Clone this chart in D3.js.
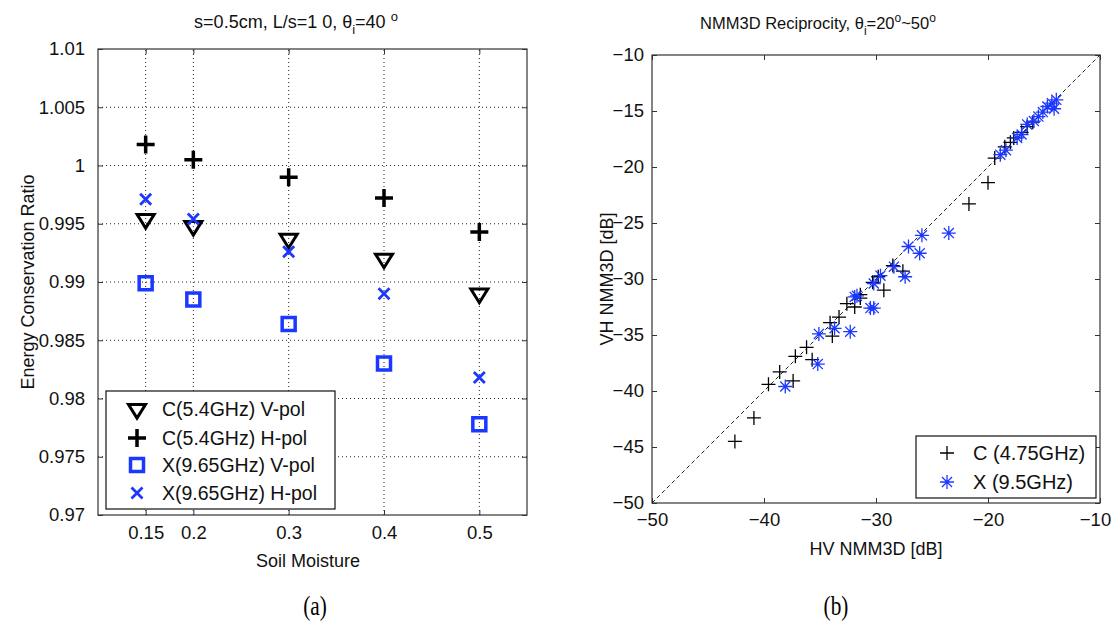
<!DOCTYPE html>
<html><head><meta charset="utf-8">
<script src="https://cdn.jsdelivr.net/npm/d3@7"></script>
<style>
body{margin:0;background:#fff;}
</style></head>
<body>
<script>
// ---------- Data: panel (a) ----------
const moisture = [0.15, 0.2, 0.3, 0.4, 0.5];
const cVpol = [0.9954, 0.9948, 0.9937, 0.9920, 0.9890];
const cHpol = [1.0018, 1.0005, 0.9990, 0.9972, 0.9943];
const xVpol = [0.9899, 0.9885, 0.9864, 0.9830, 0.9778];
const xHpol = [0.9971, 0.9954, 0.9926, 0.9890, 0.9818];
const xTicksA = [0.15, 0.2, 0.3, 0.4, 0.5];
const xTickLabelsA = ["0.15", "0.2", "0.3", "0.4", "0.5"];
const yTicksA = [0.97, 0.975, 0.98, 0.985, 0.99, 0.995, 1.0, 1.005, 1.01];
const yTickLabelsA = ["0.97", "0.975", "0.98", "0.985", "0.99", "0.995", "1", "1.005", "1.01"];
const legendA = ["C(5.4GHz) V-pol", "C(5.4GHz) H-pol", "X(9.65GHz) V-pol", "X(9.65GHz) H-pol"];

// ---------- Data: panel (b) ----------
const cBandHV = [-42.6, -40.9, -39.6, -38.6, -37.4, -37.2, -36.2, -35.7, -34.1, -33.9, -33.3, -32.6, -31.9, -31.4, -31.4, -30.3, -29.8, -29.3, -28.5, -27.6, -21.7, -20.0, -19.4, -18.5, -18.0, -17.7, -17.0, -16.5, -16.0];
const cBandVH = [-44.5, -42.4, -39.4, -38.3, -39.1, -36.9, -36.1, -37.2, -33.9, -35.1, -33.4, -32.2, -32.5, -31.7, -31.4, -30.3, -29.8, -31.0, -28.8, -29.3, -23.3, -21.4, -19.2, -18.2, -17.8, -17.4, -16.9, -16.4, -16.0];
const xBandHV = [-38.1, -35.2, -35.1, -33.7, -32.3, -31.9, -31.7, -30.5, -30.2, -30.2, -29.6, -28.4, -27.4, -27.1, -26.1, -25.9, -23.5, -18.9, -18.4, -17.4, -17.0, -16.5, -15.9, -15.5, -15.1, -14.7, -14.3, -13.9, -14.1];
const xBandVH = [-39.6, -37.6, -34.9, -34.4, -34.7, -31.6, -31.5, -32.6, -32.6, -30.4, -29.7, -28.9, -29.8, -27.1, -27.7, -26.1, -25.9, -18.9, -18.5, -17.4, -17.1, -16.2, -15.9, -15.5, -15.1, -14.6, -14.3, -14.0, -14.8];
const ticksB = [-50, -45, -40, -35, -30, -25, -20, -15, -10];
const xTicksB = [-50, -40, -30, -20, -10];
const legendB = ["C (4.75GHz)", "X (9.5GHz)"];

const BLUE = "#1c38ff";
const AXC = "#333";
const SANS = '"Liberation Sans",Arial,sans-serif';
const SERIF = '"Liberation Serif","Times New Roman",serif';

const svg = d3.select("body").append("svg").attr("width", 1114).attr("height", 624)
  .style("font-family", SANS);

// marker path helpers
function plusPath(r){ return `M${-r},0H${r}M0,${-r}V${r}`; }
function crossPath(r){ return `M${-r},${-r}L${r},${r}M${-r},${r}L${r},${-r}`; }
function starPath(r){ const d=r*0.72; return plusPath(r)+crossPath(d); }
function triDownPath(w){ const h=w*0.8; return `M${-w/2},${-h/3}L${w/2},${-h/3}L0,${2*h/3}Z`; }
function squarePath(s){ return `M${-s/2},${-s/2}h${s}v${s}h${-s}Z`; }

function styleAxis(g, fs){
  g.select(".domain").remove();
  g.selectAll(".tick line").attr("stroke", AXC).attr("stroke-width", 1);
  g.selectAll(".tick text").style("font-size", fs + "px").style("font-family", SANS).attr("fill", "#111");
}

// ================= Panel (a) =================
const xA = d3.scaleLinear().domain([0.1, 0.55]).range([98, 527]);
const yA = d3.scaleLinear().domain([0.97, 1.01]).range([515, 49]);
const gA = svg.append("g");

// grid
gA.selectAll(".gx").data(xTicksA).enter().append("line")
  .attr("x1", d => xA(d)).attr("x2", d => xA(d)).attr("y1", yA.range()[0]).attr("y2", yA.range()[1])
  .attr("stroke", "#222").attr("stroke-width", 1).attr("stroke-dasharray", "1,3");
gA.selectAll(".gy").data(yTicksA.slice(1, -1)).enter().append("line")
  .attr("y1", d => yA(d)).attr("y2", d => yA(d)).attr("x1", xA.range()[0]).attr("x2", xA.range()[1])
  .attr("stroke", "#222").attr("stroke-width", 1).attr("stroke-dasharray", "1,3");

gA.append("g").attr("transform", `translate(0,${yA.range()[0]})`)
  .call(d3.axisBottom(xA).tickValues(xTicksA).tickSize(-5).tickPadding(11).tickFormat((d, i) => xTickLabelsA[i]))
  .call(g => styleAxis(g, 18.5));
gA.append("g").attr("transform", `translate(0,${yA.range()[1]})`)
  .call(d3.axisTop(xA).tickValues(xTicksA).tickSize(-5).tickFormat(""))
  .call(g => styleAxis(g, 18));
gA.append("g").attr("transform", `translate(${xA.range()[0]},0)`)
  .call(d3.axisLeft(yA).tickValues(yTicksA).tickSize(-5).tickPadding(13).tickFormat((d, i) => yTickLabelsA[i]))
  .call(g => styleAxis(g, 18.5));
gA.append("g").attr("transform", `translate(${xA.range()[1]},0)`)
  .call(d3.axisRight(yA).tickValues(yTicksA).tickSize(-5).tickFormat(""))
  .call(g => styleAxis(g, 18));
gA.append("rect").attr("x", 98).attr("y", 49).attr("width", 527 - 98).attr("height", 515 - 49)
  .attr("fill", "none").attr("stroke", AXC).attr("stroke-width", 1.2);

const seriesA = [
  {vals: cVpol, path: triDownPath(17), stroke: "#000", sw: 3, fill: "none"},
  {vals: cHpol, path: plusPath(9), stroke: "#000", sw: 3.5, fill: "none"},
  {vals: xVpol, path: squarePath(13), stroke: BLUE, sw: 3.5, fill: "none"},
  {vals: xHpol, path: crossPath(5.5), stroke: BLUE, sw: 2.8, fill: "none"}
];
seriesA.forEach(s => {
  gA.selectAll(null).data(moisture.map((m, i) => [m, s.vals[i]])).enter().append("path")
    .attr("d", s.path).attr("transform", d => `translate(${xA(d[0])},${yA(d[1])})`)
    .attr("fill", s.fill).attr("stroke", s.stroke).attr("stroke-width", s.sw);
});

// legend (a)
const lgA = gA.append("g");
lgA.append("rect").attr("x", 106).attr("y", 391).attr("width", 229).attr("height", 118)
  .attr("fill", "#fff").attr("stroke", "#111").attr("stroke-width", 1.2);
const legYA = [409, 438, 465, 493];
seriesA.forEach((s, i) => {
  lgA.append("path").attr("d", s.path).attr("transform", `translate(137,${legYA[i]})`)
    .attr("fill", s.fill).attr("stroke", s.stroke).attr("stroke-width", s.sw);
  lgA.append("text").attr("x", 162).attr("y", legYA[i]).attr("dy", "0.36em")
    .style("font-size", "19.5px").attr("fill", "#111").text(legendA[i]);
});

// titles / labels (a)
const tA = gA.append("text").attr("x", 296).attr("y", 28).attr("text-anchor", "middle")
  .style("font-size", "18px").attr("fill", "#111");
tA.append("tspan").text("s=0.5cm, L/s=1 0,   θ");
tA.append("tspan").style("font-size", "13px").attr("dy", 6).text("i");
tA.append("tspan").attr("dy", -6).text("=40 ");
tA.append("tspan").style("font-size", "13px").attr("dy", -7).text("o");
gA.append("text").attr("transform", "translate(34,282) rotate(-90)").attr("text-anchor", "middle")
  .style("font-size", "18px").attr("fill", "#111").text("Energy Conservation Ratio");
gA.append("text").attr("x", 308).attr("y", 567).attr("text-anchor", "middle")
  .style("font-size", "18px").attr("fill", "#111").text("Soil Moisture");

// ================= Panel (b) =================
const xB = d3.scaleLinear().domain([-50, -10]).range([652, 1100]);
const yB = d3.scaleLinear().domain([-50, -10]).range([503, 55]);
const gB = svg.append("g");

gB.append("g").attr("transform", `translate(0,${yB.range()[0]})`)
  .call(d3.axisBottom(xB).tickValues(xTicksB).tickSize(-5).tickPadding(10).tickFormat(d3.format("d")))
  .call(g => styleAxis(g, 18.5))
  .call(g => g.selectAll(".tick text").filter(d => d === -10).attr("dx", -5));
gB.append("g").attr("transform", `translate(0,${yB.range()[1]})`)
  .call(d3.axisTop(xB).tickValues(xTicksB).tickSize(-5).tickFormat(""))
  .call(g => styleAxis(g, 18));
gB.append("g").attr("transform", `translate(${xB.range()[0]},0)`)
  .call(d3.axisLeft(yB).tickValues(ticksB).tickSize(-5).tickPadding(8).tickFormat(d3.format("d")))
  .call(g => styleAxis(g, 18.5));
gB.append("g").attr("transform", `translate(${xB.range()[1]},0)`)
  .call(d3.axisRight(yB).tickValues(ticksB).tickSize(-5).tickFormat(""))
  .call(g => styleAxis(g, 18));
gB.append("rect").attr("x", 652).attr("y", 55).attr("width", 448).attr("height", 448)
  .attr("fill", "none").attr("stroke", AXC).attr("stroke-width", 1.2);

gB.append("line").attr("x1", xB(-50)).attr("y1", yB(-50)).attr("x2", xB(-10)).attr("y2", yB(-10))
  .attr("stroke", "#222").attr("stroke-width", 1).attr("stroke-dasharray", "4,3");

gB.selectAll(null).data(cBandHV.map((v, i) => [v, cBandVH[i]])).enter().append("path")
  .attr("d", plusPath(7)).attr("transform", d => `translate(${xB(d[0])},${yB(d[1])})`)
  .attr("fill", "none").attr("stroke", "#000").attr("stroke-width", 1.3);
gB.selectAll(null).data(xBandHV.map((v, i) => [v, xBandVH[i]])).enter().append("path")
  .attr("d", starPath(7)).attr("transform", d => `translate(${xB(d[0])},${yB(d[1])})`)
  .attr("fill", "none").attr("stroke", BLUE).attr("stroke-width", 1.3);

// legend (b)
const lgB = gB.append("g");
lgB.append("rect").attr("x", 916).attr("y", 436).attr("width", 180).attr("height", 62)
  .attr("fill", "#fff").attr("stroke", "#111").attr("stroke-width", 1.2);
lgB.append("path").attr("d", plusPath(7)).attr("transform", "translate(947,453)")
  .attr("fill", "none").attr("stroke", "#000").attr("stroke-width", 1.3);
lgB.append("path").attr("d", starPath(7)).attr("transform", "translate(947,482)")
  .attr("fill", "none").attr("stroke", BLUE).attr("stroke-width", 1.3);
lgB.append("text").attr("x", 973).attr("y", 453).attr("dy", "0.36em").style("font-size", "20px").attr("fill", "#111").text(legendB[0]);
lgB.append("text").attr("x", 973).attr("y", 482).attr("dy", "0.36em").style("font-size", "20px").attr("fill", "#111").text(legendB[1]);

// titles / labels (b)
const tB = gB.append("text").attr("x", 818).attr("y", 29).attr("text-anchor", "middle")
  .style("font-size", "16.5px").attr("fill", "#111");
tB.append("tspan").text("NMM3D Reciprocity,  θ");
tB.append("tspan").style("font-size", "12px").attr("dy", 6).text("i");
tB.append("tspan").attr("dy", -6).text("=20");
tB.append("tspan").style("font-size", "12px").attr("dy", -7).text("o");
tB.append("tspan").attr("dy", 7).text("~50");
tB.append("tspan").style("font-size", "12px").attr("dy", -7).text("o");
gB.append("text").attr("transform", "translate(613,279) rotate(-90)").attr("text-anchor", "middle")
  .style("font-size", "18px").attr("fill", "#111").text("VH NMM3D [dB]");
gB.append("text").attr("x", 876).attr("y", 555).attr("text-anchor", "middle")
  .style("font-size", "18px").attr("fill", "#111").text("HV NMM3D [dB]");

// panel captions
svg.append("text").attr("transform", "translate(315,615) scale(0.85,1.1)").attr("text-anchor", "middle")
  .style("font-family", SERIF).style("font-size", "25px").attr("fill", "#000").text("(a)");
svg.append("text").attr("transform", "translate(836,615) scale(0.85,1.1)").attr("text-anchor", "middle")
  .style("font-family", SERIF).style("font-size", "25px").attr("fill", "#000").text("(b)");
</script>
</body></html>
